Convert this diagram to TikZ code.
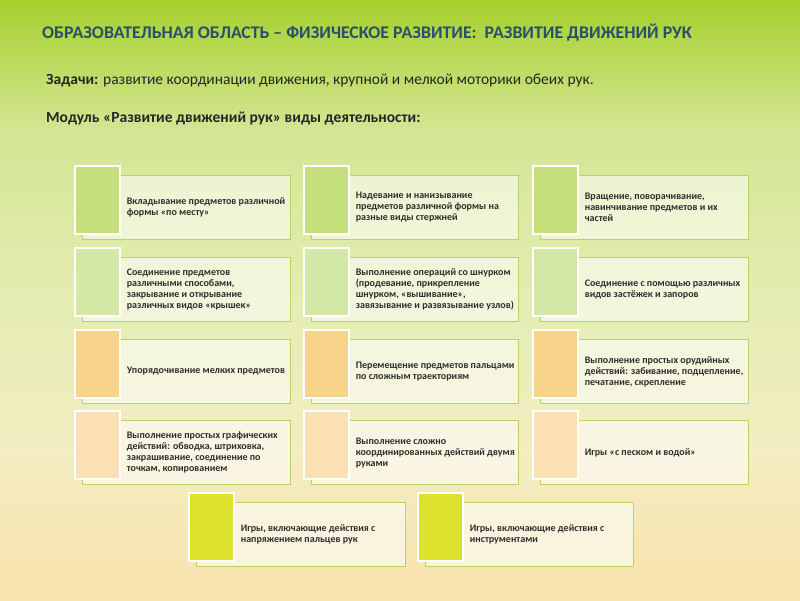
\documentclass[tikz,border=0pt]{standalone}
\usepackage{fontspec}
\setmainfont{Carlito}
\usetikzlibrary{positioning}
\definecolor{bgA}{HTML}{A6CF2C}
\definecolor{bgB}{HTML}{D3E693}
\definecolor{bgC}{HTML}{E4EDB2}
\definecolor{bgD}{HTML}{F3EDC2}
\definecolor{bgE}{HTML}{F9E2AC}
\definecolor{titlecol}{HTML}{28506A}
\definecolor{edgecol}{HTML}{B6D468}
\definecolor{sqgreen}{HTML}{C4DF7C}
\definecolor{sqlgreen}{HTML}{D3E8A6}
\definecolor{sqorange}{HTML}{F8D38A}
\definecolor{sqlorange}{HTML}{FAE0B2}
\definecolor{sqyellow}{HTML}{DDE22F}
\definecolor{txtcol}{HTML}{2E2E2E}
\pgfdeclareverticalshading{bgshade}{100bp}{color(0bp)=(bgE); color(25bp)=(bgE); color(37.5bp)=(bgD); color(50bp)=(bgC); color(64.2bp)=(bgB); color(75bp)=(bgA); color(100bp)=(bgA)}
\tikzset{
  backbox/.style={draw=edgecol, line width=1.1pt, fill=white, fill opacity=0.55, draw opacity=1,
    minimum height=64pt, inner sep=0pt, anchor=north west},
  sqbox/.style={draw=white, line width=1.6pt, minimum width=45pt, minimum height=68pt,
    inner sep=0pt, anchor=north west},
  boxtext/.style={anchor=west, inner sep=0pt, align=left, text=txtcol,
    font=\fontsize{10}{11}\selectfont\bfseries},
}
\newcommand\actbox[6]{%
  % #1 name, #2 square x, #3 square y, #4 colour, #5 back width, #6 text
  \node[backbox, minimum width=#5pt] (b#1) at (#2+8, #3+10) {};
  \node[sqbox, fill=#4] (s#1) at (#2, #3) {};
  \node[boxtext] (t#1) at ([xshift=6pt]s#1.east |- b#1.center) {#6};
}
\begin{document}
\begin{tikzpicture}[x=1pt, y=-1pt]
\shade[shading=bgshade] (0,0) rectangle (800,600);
\useasboundingbox (0,0) rectangle (800,600);
\node[anchor=west, inner sep=0pt, text=titlecol, font=\fontsize{17.8}{19}\selectfont\bfseries] (title) at (42,33)
  {ОБРАЗОВАТЕЛЬНАЯ ОБЛАСТЬ – ФИЗИЧЕСКОЕ РАЗВИТИЕ:\ \ РАЗВИТИЕ ДВИЖЕНИЙ РУК};
\node[anchor=west, inner sep=0pt, text=black!85, font=\fontsize{15.5}{17}\selectfont] (task) at (46,80)
  {\textbf{Задачи:} развитие координации движения, крупной и мелкой моторики обеих рук.};
\node[anchor=west, inner sep=0pt, text=black!85, font=\fontsize{15.5}{17}\selectfont\bfseries] (mod) at (46,118)
  {Модуль «Развитие движений рук» виды деятельности:};
% row 1
\actbox{11}{74}{165}{sqgreen}{208}{Вкладывание предметов различной\\формы «по месту»}
\actbox{12}{303}{165}{sqgreen}{207}{Надевание и нанизывание\\предметов различной формы на\\разные виды стержней}
\actbox{13}{532}{165}{sqgreen}{208}{Вращение, поворачивание,\\навинчивание предметов и их\\частей}
% row 2
\actbox{21}{74}{247}{sqlgreen}{208}{Соединение предметов\\различными способами,\\закрывание и открывание\\различных видов «крышек»}
\actbox{22}{303}{247}{sqlgreen}{207}{Выполнение операций со шнурком\\(продевание, прикрепление\\шнурком, «вышивание»,\\завязывание и развязывание узлов)}
\actbox{23}{532}{247}{sqlgreen}{208}{Соединение с помощью различных\\видов застёжек и запоров}
% row 3
\actbox{31}{74}{329}{sqorange}{208}{Упорядочивание мелких предметов}
\actbox{32}{303}{329}{sqorange}{207}{Перемещение предметов пальцами\\по сложным траекториям}
\actbox{33}{532}{329}{sqorange}{208}{Выполнение простых орудийных\\действий: забивание, подцепление,\\печатание, скрепление}
% row 4
\actbox{41}{74}{410}{sqlorange}{208}{Выполнение простых графических\\действий: обводка, штриховка,\\закрашивание, соединение по\\точкам, копированием}
\actbox{42}{303}{410}{sqlorange}{207}{Выполнение сложно\\координированных действий двумя\\руками}
\actbox{43}{532}{410}{sqlorange}{208}{Игры «с песком и водой»}
% row 5
\actbox{51}{188}{492}{sqyellow}{209}{Игры, включающие действия с\\напряжением пальцев рук}
\actbox{52}{417}{492}{sqyellow}{208}{Игры, включающие действия с\\инструментами}
\end{tikzpicture}
\end{document}
